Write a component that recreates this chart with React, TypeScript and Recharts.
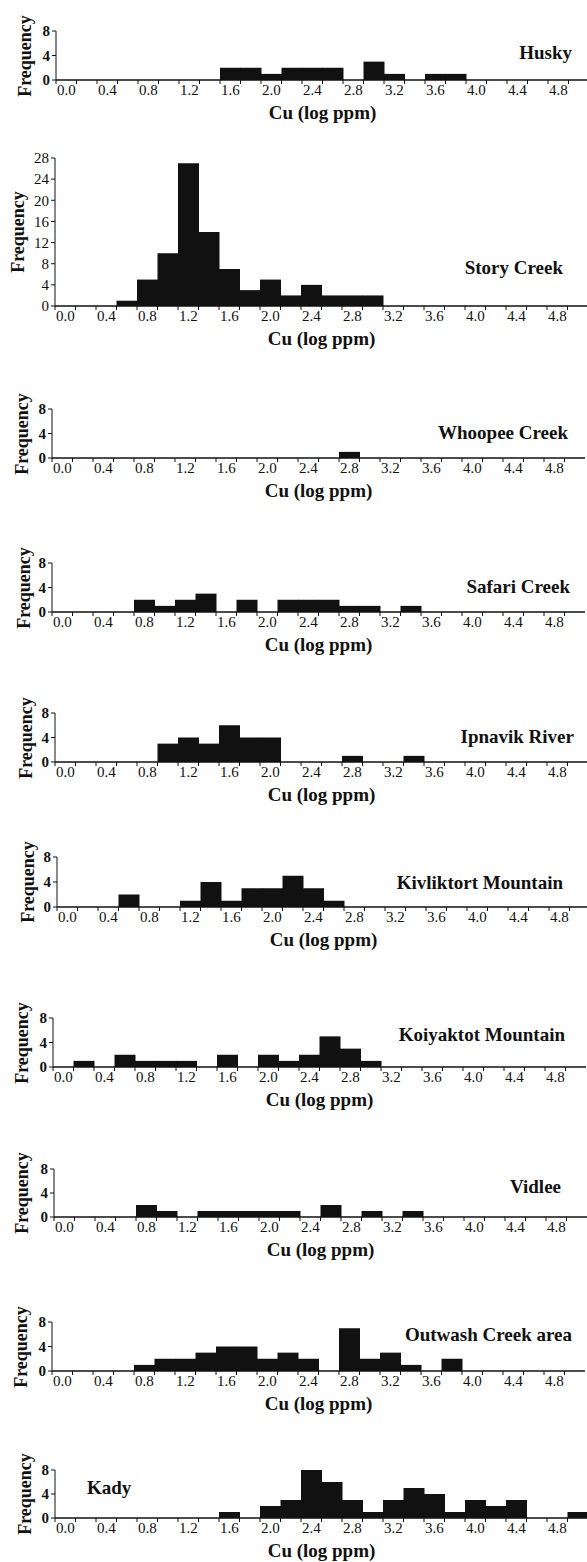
import { BarChart, Bar, XAxis, YAxis } from "recharts";

// histogram bins of Cu (log ppm), width 0.2
const binLabels = [
    "0.0", "0.2", "0.4", "0.6", "0.8", "1.0", "1.2", "1.4", "1.6", "1.8",
    "2.0", "2.2", "2.4", "2.6", "2.8", "3.0", "3.2", "3.4", "3.6", "3.8",
    "4.0", "4.2", "4.4", "4.6", "4.8", "5.0",
];

const huskyCounts = [0, 0, 0, 0, 0, 0, 0, 0, 2, 2, 1, 2, 2, 2, 0, 3, 1, 0, 1, 1, 0, 0, 0, 0, 0, 0];
const storyCreekCounts = [0, 0, 0, 1, 5, 10, 27, 14, 7, 3, 5, 2, 4, 2, 2, 2, 0, 0, 0, 0, 0, 0, 0, 0, 0, 0];
const whoopeeCreekCounts = [0, 0, 0, 0, 0, 0, 0, 0, 0, 0, 0, 0, 0, 0, 1, 0, 0, 0, 0, 0, 0, 0, 0, 0, 0, 0];
const safariCreekCounts = [0, 0, 0, 0, 2, 1, 2, 3, 0, 2, 0, 2, 2, 2, 1, 1, 0, 1, 0, 0, 0, 0, 0, 0, 0, 0];
const ipnavikRiverCounts = [0, 0, 0, 0, 0, 3, 4, 3, 6, 4, 4, 0, 0, 0, 1, 0, 0, 1, 0, 0, 0, 0, 0, 0, 0, 0];
const kivliktortCounts = [0, 0, 0, 2, 0, 0, 1, 4, 1, 3, 3, 5, 3, 1, 0, 0, 0, 0, 0, 0, 0, 0, 0, 0, 0, 0];
const koiyaktotCounts = [0, 1, 0, 2, 1, 1, 1, 0, 2, 0, 2, 1, 2, 5, 3, 1, 0, 0, 0, 0, 0, 0, 0, 0, 0, 0];
const vidleeCounts = [0, 0, 0, 0, 2, 1, 0, 1, 1, 1, 1, 1, 0, 2, 0, 1, 0, 1, 0, 0, 0, 0, 0, 0, 0, 0];
const outwashCounts = [0, 0, 0, 0, 1, 2, 2, 3, 4, 4, 2, 3, 2, 0, 7, 2, 3, 1, 0, 2, 0, 0, 0, 0, 0, 0];
const kadyCounts = [0, 0, 0, 0, 0, 0, 0, 0, 1, 0, 2, 3, 8, 6, 3, 1, 3, 5, 4, 1, 3, 2, 3, 0, 0, 1];

const smallTicks = [0, 4, 8];
const storyTicks = [0, 4, 8, 12, 16, 20, 24, 28];

const SERIF = "'Liberation Serif', 'Times New Roman', serif";
const INK = "#111";
const BIN_W = 20.5;
const PLOT_W = BIN_W * binLabels.length;
const Y_AXIS_W = 40;
const TOP_PAD = 10;
const X_AXIS_H = 24;

type Panel = {
    name: string;
    counts: number[];
    ticks: number[];
    axisX: number;
    baseline: number;
    plotH: number;
    titleRight?: number;
    titleLeft?: number;
    titleY: number;
    freqX: number;
};

const panels: Panel[] = [
    { name: "Husky", counts: huskyCounts, ticks: smallTicks, axisX: 56, baseline: 80, plotH: 49, titleRight: 572, titleY: 53, freqX: 25 },
    { name: "Story Creek", counts: storyCreekCounts, ticks: storyTicks, axisX: 55, baseline: 306, plotH: 148, titleRight: 563, titleY: 268, freqX: 18 },
    { name: "Whoopee Creek", counts: whoopeeCreekCounts, ticks: smallTicks, axisX: 52, baseline: 458, plotH: 49, titleRight: 568, titleY: 433, freqX: 22 },
    { name: "Safari Creek", counts: safariCreekCounts, ticks: smallTicks, axisX: 52, baseline: 612, plotH: 49, titleRight: 570, titleY: 587, freqX: 24 },
    { name: "Ipnavik River", counts: ipnavikRiverCounts, ticks: smallTicks, axisX: 55, baseline: 762, plotH: 49, titleRight: 574, titleY: 737, freqX: 26 },
    { name: "Kivliktort Mountain", counts: kivliktortCounts, ticks: smallTicks, axisX: 57, baseline: 907, plotH: 50, titleRight: 563, titleY: 883, freqX: 28 },
    { name: "Koiyaktot Mountain", counts: koiyaktotCounts, ticks: smallTicks, axisX: 53, baseline: 1067, plotH: 49, titleRight: 565, titleY: 1035, freqX: 22 },
    { name: "Vidlee", counts: vidleeCounts, ticks: smallTicks, axisX: 54, baseline: 1217, plotH: 48, titleRight: 561, titleY: 1187, freqX: 22 },
    { name: "Outwash Creek area", counts: outwashCounts, ticks: smallTicks, axisX: 52, baseline: 1371, plotH: 49, titleRight: 572, titleY: 1335, freqX: 21 },
    { name: "Kady", counts: kadyCounts, ticks: smallTicks, axisX: 55, baseline: 1518, plotH: 48, titleLeft: 87, titleY: 1488, freqX: 25 },
];

// label under every other bin, tick mark on every bin edge
const BinTick = (props: any) => {
    const { x, y, payload, index } = props;
    const edge = x - BIN_W / 2;
    return (
        <g>
            <line x1={edge} x2={edge} y1={y} y2={y + 4} stroke={INK} strokeWidth={1} />
            {index % 2 === 0 && (
                <text x={x} y={y + 15} textAnchor="middle" fill={INK} fontSize={15} fontFamily={SERIF}>
                    {payload.value}
                </text>
            )}
        </g>
    );
};

const PanelChart = ({ p }: { p: Panel }) => {
    const data = binLabels.map((bin, i) => ({ bin, count: p.counts[i] }));
    const yMax = p.ticks[p.ticks.length - 1];
    const big = yMax > 8;
    const chartTop = p.baseline - p.plotH - TOP_PAD;
    const midY = p.baseline - p.plotH / 2;

    return (
        <>
            <div style={{ position: "absolute", left: p.axisX - Y_AXIS_W, top: chartTop }}>
                <BarChart
                    width={Y_AXIS_W + PLOT_W}
                    height={TOP_PAD + p.plotH + X_AXIS_H}
                    data={data}
                    margin={{ top: TOP_PAD, right: 0, bottom: 0, left: 0 }}
                    barCategoryGap={0}
                    barGap={0}
                >
                    <XAxis
                        dataKey="bin"
                        interval={0}
                        height={X_AXIS_H}
                        tickSize={0}
                        tickMargin={0}
                        tickLine={false}
                        axisLine={{ stroke: INK, strokeWidth: 1.3 }}
                        tick={(t: any) => <BinTick {...t} />}
                    />
                    <YAxis
                        width={Y_AXIS_W}
                        domain={[0, yMax]}
                        ticks={p.ticks}
                        interval={0}
                        tickSize={4}
                        tickMargin={2}
                        axisLine={{ stroke: INK, strokeWidth: 1 }}
                        tickLine={{ stroke: INK }}
                        tick={{ fill: INK, fontSize: 15, fontFamily: SERIF, fontWeight: big ? 400 : 700 }}
                        allowDataOverflow
                    />
                    <Bar dataKey="count" fill={INK} stroke="none" isAnimationActive={false} />
                </BarChart>
            </div>
            <div
                style={{
                    position: "absolute",
                    left: p.freqX - 60,
                    top: midY - 10,
                    width: 120,
                    lineHeight: "20px",
                    textAlign: "center",
                    transform: "rotate(-90deg)",
                    fontFamily: SERIF,
                    fontWeight: 700,
                    fontSize: 18,
                    color: INK,
                }}
            >
                Frequency
            </div>
            <div
                style={{
                    position: "absolute",
                    left: p.axisX + PLOT_W / 2 - 100,
                    top: p.baseline + 33 - 11,
                    width: 200,
                    lineHeight: "22px",
                    textAlign: "center",
                    fontFamily: SERIF,
                    fontWeight: 700,
                    fontSize: 19,
                    color: INK,
                }}
            >
                Cu (log ppm)
            </div>
            <div
                style={{
                    position: "absolute",
                    ...(p.titleLeft !== undefined ? { left: p.titleLeft } : { right: 587 - (p.titleRight || 570) }),
                    top: p.titleY - 11,
                    lineHeight: "22px",
                    whiteSpace: "nowrap",
                    fontFamily: SERIF,
                    fontWeight: 700,
                    fontSize: 19,
                    color: INK,
                }}
            >
                {p.name}
            </div>
        </>
    );
};

export default function App() {
    return (
        <div
            style={{
                position: "absolute",
                left: 0,
                top: 0,
                width: 587,
                height: 1562,
                overflow: "hidden",
                background: "#fff",
            }}
        >
            {panels.map((p) => (
                <PanelChart key={p.name} p={p} />
            ))}
        </div>
    );
}
